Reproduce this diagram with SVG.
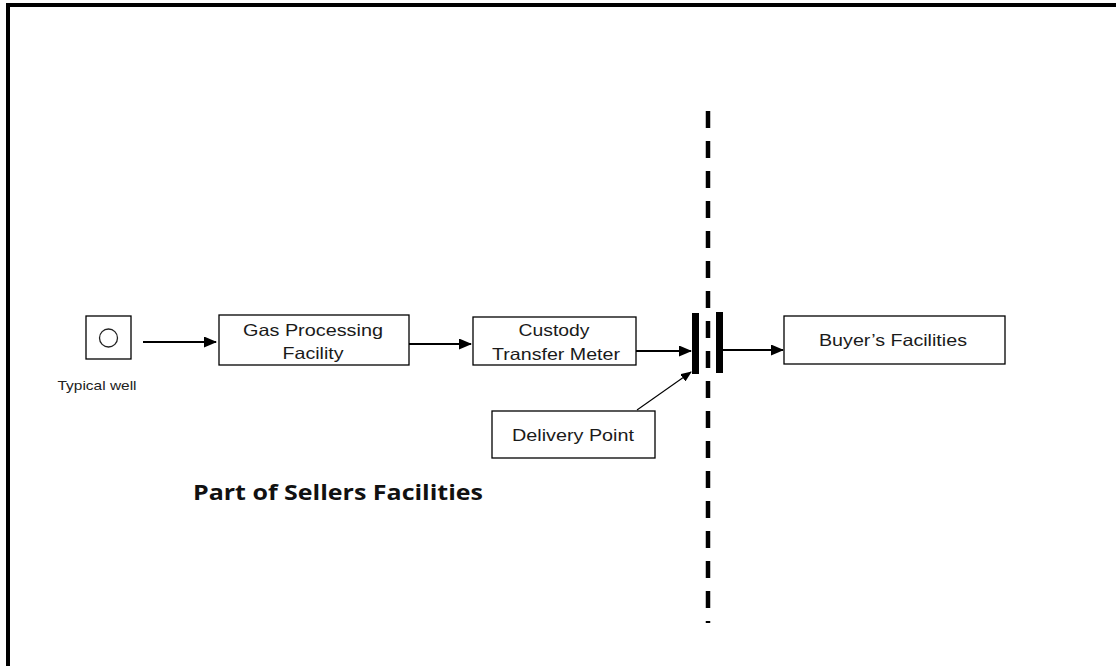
<svg xmlns="http://www.w3.org/2000/svg" width="1116" height="666" viewBox="0 0 1116 666">
<style>
.box{fill:#fff;stroke:#000;stroke-width:1.3}
.lbl{font-family:"Liberation Sans",Arial,sans-serif;font-size:16.5px;fill:#1a1a1a;text-anchor:middle}
.conn{stroke:#000;stroke-width:2;fill:none}
.thin{stroke:#000;stroke-width:1.1;fill:none}
</style>
<defs>
<marker id="ah" markerUnits="userSpaceOnUse" markerWidth="13" markerHeight="11" refX="12" refY="5.5" orient="auto">
<path d="M0,0 L13,5.5 L0,11 Z" fill="#000"/>
</marker>
<marker id="ahs" markerUnits="userSpaceOnUse" markerWidth="11" markerHeight="9" refX="10" refY="4.5" orient="auto">
<path d="M0,0 L11,4.5 L0,9 Z" fill="#000"/>
</marker>
</defs>
<rect width="1116" height="666" fill="#fff"/>
<g id="frame">
<line x1="8" y1="5" x2="1116" y2="5" stroke="#000" stroke-width="4"/>
<line x1="8" y1="3" x2="8" y2="666" stroke="#000" stroke-width="4"/>
</g>
<g id="connectors">
<line class="conn" x1="143" y1="342" x2="216" y2="342" marker-end="url(#ah)"/>
<line class="conn" x1="409" y1="344" x2="471" y2="344" marker-end="url(#ah)"/>
<line class="conn" x1="636" y1="351" x2="691" y2="351" marker-end="url(#ah)"/>
<line class="conn" x1="723" y1="350" x2="783" y2="350" marker-end="url(#ah)"/>
<line class="thin" x1="637" y1="410" x2="691" y2="372" marker-end="url(#ahs)"/>
</g>
<g id="boundary">
<line x1="708" y1="111" x2="708" y2="623" stroke="#000" stroke-width="4.5" stroke-dasharray="17 13"/>
</g>
<g id="delivery-flange">
<rect x="692" y="313" width="7" height="61" fill="#000"/>
<rect x="716" y="312" width="7" height="61" fill="#000"/>
</g>
<g id="well">
<rect class="box" x="86" y="316" width="45" height="43"/>
<circle cx="108.5" cy="338" r="9" fill="none" stroke="#222" stroke-width="1.3"/>
<text x="97" y="390" font-family="Liberation Sans,Arial,sans-serif" font-size="13.5" fill="#222" text-anchor="middle" textLength="79" lengthAdjust="spacingAndGlyphs">Typical well</text>
</g>
<g id="gas-processing">
<rect class="box" x="219" y="315" width="190" height="50"/>
<text class="lbl" x="313" y="336" textLength="140" lengthAdjust="spacingAndGlyphs">Gas Processing</text>
<text class="lbl" x="313" y="359" textLength="61" lengthAdjust="spacingAndGlyphs">Facility</text>
</g>
<g id="custody-meter">
<rect class="box" x="473" y="317" width="163" height="48"/>
<text class="lbl" x="554" y="336" textLength="71" lengthAdjust="spacingAndGlyphs">Custody</text>
<text class="lbl" x="556" y="360" textLength="128" lengthAdjust="spacingAndGlyphs">Transfer Meter</text>
</g>
<g id="buyers-facilities">
<rect class="box" x="784" y="316" width="221" height="48"/>
<text class="lbl" x="893" y="346" textLength="148" lengthAdjust="spacingAndGlyphs">Buyer’s Facilities</text>
</g>
<g id="delivery-point">
<rect class="box" x="492" y="411" width="163" height="47"/>
<text class="lbl" x="573" y="441" textLength="122" lengthAdjust="spacingAndGlyphs">Delivery Point</text>
</g>
<g id="sellers-label">
<text x="193" y="500" font-family="Open Sans,Noto Sans,sans-serif" font-weight="bold" font-size="22" fill="#111" textLength="290" lengthAdjust="spacingAndGlyphs">Part of Sellers Facilities</text>
</g>
</svg>
